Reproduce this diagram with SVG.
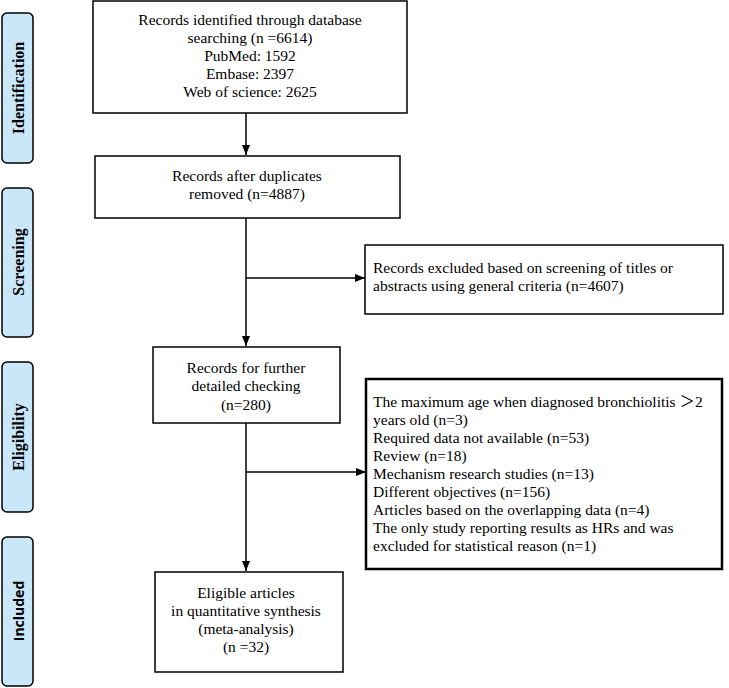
<svg xmlns="http://www.w3.org/2000/svg" width="729" height="688" viewBox="0 0 729 688">
<style>
.box{fill:#fff;stroke:#000;stroke-width:1.5}
.thick{stroke-width:2.5}
.side{fill:#cae7fa;stroke:#000;stroke-width:1.5}
text{fill:#000}
.c{text-anchor:middle}
.ln{stroke:#000;stroke-width:1.5;fill:none}
</style>
<defs>
<marker id="ah" viewBox="0 0 10 10" refX="10" refY="5" markerWidth="10" markerHeight="10" markerUnits="userSpaceOnUse" orient="auto">
<path d="M0,1 L10,5 L0,9 z" fill="#000"/>
</marker>
</defs>
<g font-family="Liberation Serif, Times New Roman, serif" font-size="16" font-weight="bold" text-anchor="middle" dominant-baseline="central">
<g id="stage-identification">
<rect class="side" x="2" y="13" width="31" height="150" rx="5"/>
<text transform="translate(18,88) rotate(-90)">Identification</text>
</g>
<g id="stage-screening">
<rect class="side" x="2" y="188" width="31" height="149" rx="5"/>
<text transform="translate(18,262) rotate(-90)">Screening</text>
</g>
<g id="stage-eligibility">
<rect class="side" x="2" y="362" width="31" height="150" rx="5"/>
<text transform="translate(18,437) rotate(-90)">Eligibility</text>
</g>
<g id="stage-included">
<rect class="side" x="2" y="537" width="31" height="149" rx="5"/>
<text font-family="Open Sans, Liberation Sans, sans-serif" font-size="14" transform="translate(18,611) rotate(-90)">Included</text>
</g>
</g>
<g id="connectors">
<line class="ln" x1="246" y1="113" x2="246" y2="155" marker-end="url(#ah)"/>
<line class="ln" x1="246" y1="218" x2="246" y2="346" marker-end="url(#ah)"/>
<line class="ln" x1="246" y1="278" x2="365" y2="278" marker-end="url(#ah)"/>
<line class="ln" x1="246" y1="423" x2="246" y2="571" marker-end="url(#ah)"/>
<line class="ln" x1="246" y1="472" x2="366" y2="472" marker-end="url(#ah)"/>
</g>
<g font-family="Liberation Serif, Times New Roman, Noto Sans CJK SC, serif" font-size="15.5">
<g id="node-identified">
<rect class="box" x="93" y="1" width="314" height="112"/>
<text class="c" x="250" y="25">Records identified through database</text>
<text class="c" x="250" y="43">searching (n =6614)</text>
<text class="c" x="250" y="61">PubMed: 1592</text>
<text class="c" x="250" y="79">Embase: 2397</text>
<text class="c" x="250" y="97">Web of science: 2625</text>
</g>
<g id="node-duplicates">
<rect class="box" x="95" y="156" width="305" height="62"/>
<text class="c" x="247" y="181">Records after duplicates</text>
<text class="c" x="247" y="199">removed (n=4887)</text>
</g>
<g id="node-excluded-screening">
<rect class="box" x="365" y="245" width="358" height="69"/>
<text x="373" y="273">Records excluded based on screening of titles or</text>
<text x="373" y="291">abstracts using general criteria (n=4607)</text>
</g>
<g id="node-further">
<rect class="box" x="153" y="347" width="187" height="76"/>
<text class="c" x="246" y="373">Records for further</text>
<text class="c" x="246" y="391">detailed checking</text>
<text class="c" x="246" y="410">(n=280)</text>
</g>
<g id="node-excluded-eligibility">
<rect class="box thick" x="366" y="379" width="356" height="190"/>
<text x="373" y="407">The maximum age when diagnosed bronchiolitis ＞2</text>
<text x="373" y="425">years old (n=3)</text>
<text x="373" y="443">Required data not available (n=53)</text>
<text x="373" y="461">Review (n=18)</text>
<text x="373" y="479">Mechanism research studies (n=13)</text>
<text x="373" y="497">Different objectives (n=156)</text>
<text x="373" y="515">Articles based on the overlapping data (n=4)</text>
<text x="373" y="533">The only study reporting results as HRs and was</text>
<text x="373" y="551">excluded for statistical reason (n=1)</text>
</g>
<g id="node-included">
<rect class="box" x="155" y="572" width="188" height="100"/>
<text class="c" x="246" y="598">Eligible articles</text>
<text class="c" x="246" y="616">in quantitative synthesis</text>
<text class="c" x="246" y="634">(meta-analysis)</text>
<text class="c" x="246" y="652">(n =32)</text>
</g>
</g>
</svg>
